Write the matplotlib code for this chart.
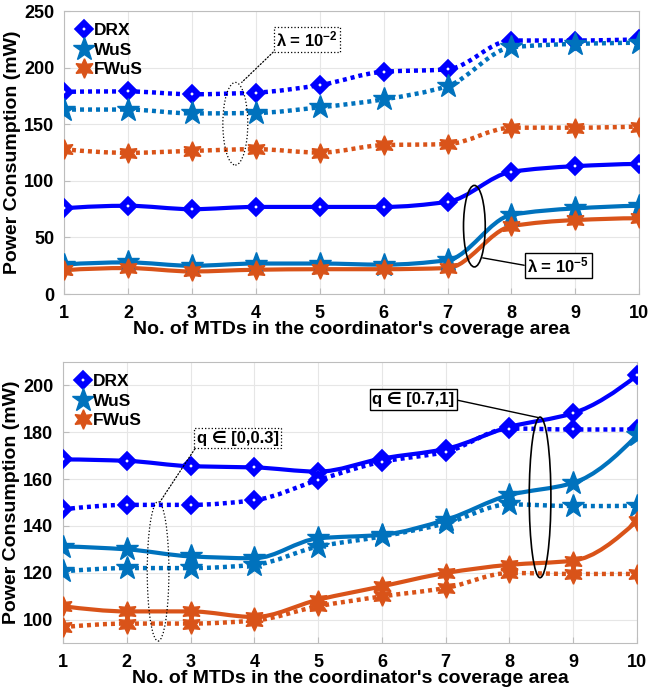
import numpy as np
import matplotlib
matplotlib.use('Agg')
import matplotlib.pyplot as plt
from matplotlib.path import Path
from matplotlib.patches import PathPatch, Ellipse
from matplotlib.lines import Line2D

plt.rcParams['font.family'] = ['Liberation Sans', 'DejaVu Sans']
plt.rcParams['font.weight'] = 'bold'
plt.rcParams['axes.labelweight'] = 'bold'
plt.rcParams['mathtext.fontset'] = 'custom'
plt.rcParams['mathtext.rm'] = 'Liberation Sans:bold'
plt.rcParams['mathtext.it'] = 'Liberation Sans:bold'
plt.rcParams['mathtext.bf'] = 'Liberation Sans:bold'
plt.rcParams['mathtext.default'] = 'rm'

n_mtd = [1, 2, 3, 4, 5, 6, 7, 8, 9, 10]

# top panel: lambda = 1e-2 (dotted) and lambda = 1e-5 (solid)
drx_l2 = [178.7, 179, 176.5, 178, 184.6, 196.4, 198.5, 224, 224, 225]
wus_l2 = [163, 163, 159.6, 160, 165, 172, 183.7, 218, 221, 222]
fwus_l2 = [128, 124.8, 126.5, 128, 125, 131.6, 132.5, 147, 147, 148]
drx_l5 = [75.7, 78, 75, 77, 77, 77, 81.5, 108, 113, 115]
wus_l5 = [26, 28, 25, 27, 27, 26, 30, 70, 75.7, 78]
fwus_l5 = [21, 23, 20, 21.5, 22, 22, 23, 60, 65.4, 67]

# bottom panel: q in [0.7,1] (solid) and q in [0,0.3] (dotted)
drx_qhi = [168.4, 167.8, 165.5, 165, 163.2, 168.8, 172.9, 182.3, 188.2, 204.3]
drx_qlo = [147.1, 149, 149, 151, 159.6, 167.4, 171.6, 181.6, 181.2, 181.2]
wus_qhi = [131.2, 130, 127, 126.2, 134.7, 136.2, 142.6, 153.2, 158.4, 178.7]
wus_qlo = [120.6, 122, 122, 123.4, 131.2, 135.5, 141.1, 149.2, 148.5, 148.6]
fwus_qhi = [105.7, 103.5, 103.5, 101.1, 108.5, 114.2, 119.9, 123.4, 125.2, 142.1]
fwus_qlo = [96.8, 98.3, 98.3, 99.6, 105.7, 109.9, 113.5, 119.9, 119.5, 119.5]

c_drx = (0, 0, 1)
c_wus = (0, 0.447, 0.741)
c_fwus = (0.85, 0.325, 0.098)
hexagram = (6, 1, 0)


def pchip_slopes(x, y):
    x = np.asarray(x, float)
    y = np.asarray(y, float)
    h = np.diff(x)
    d = np.diff(y) / h
    m = np.zeros_like(y)
    for k in range(1, len(x) - 1):
        if d[k - 1] * d[k] > 0:
            w1 = 2 * h[k] + h[k - 1]
            w2 = h[k] + 2 * h[k - 1]
            m[k] = (w1 + w2) / (w1 / d[k - 1] + w2 / d[k])
    for i0, i1, j in [(0, 1, 0), (-1, -2, -1)]:
        hh0, hh1 = h[i0], h[i1]
        dd0, dd1 = d[i0], d[i1]
        e = ((2 * hh0 + hh1) * dd0 - hh0 * dd1) / (hh0 + hh1)
        if np.sign(e) != np.sign(dd0):
            e = 0
        elif np.sign(dd0) != np.sign(dd1) and abs(e) > abs(3 * dd0):
            e = 3 * dd0
        m[j] = e
    return m


def smooth_line(ax, x, y, color, ls):
    # shape-preserving cubic drawn as bezier segments
    m = pchip_slopes(x, y)
    verts = [(x[0], y[0])]
    codes = [Path.MOVETO]
    for i in range(len(x) - 1):
        h = x[i + 1] - x[i]
        verts += [(x[i] + h / 3, y[i] + h * m[i] / 3),
                  (x[i + 1] - h / 3, y[i + 1] - h * m[i + 1] / 3),
                  (x[i + 1], y[i + 1])]
        codes += [Path.CURVE4] * 3
    lw = 3 if ls == '-' else 3.2
    ax.add_patch(PathPatch(Path(verts, codes), fill=False, ec=color, lw=lw,
                           ls=ls if ls == '-' else (0, (0.9, 0.9)), zorder=2))


def series(ax, y, color, marker, ms, ls):
    smooth_line(ax, n_mtd, y, color, ls)
    if marker == 'D':
        ax.plot(n_mtd, y, ls='none', marker='D', ms=6, mfc='white', mec=color, mew=4.3, zorder=3)
    else:
        ax.plot(n_mtd, y, ls='none', marker=marker, ms=ms, color=color, mec=color, zorder=3)


def style(ax, ylim, yticks):
    ax.set_xlim(1, 10)
    ax.set_ylim(*ylim)
    ax.set_xticks(n_mtd, labels=[str(v) for v in n_mtd], fontsize=13, fontweight='bold')
    ax.set_yticks(yticks, labels=[str(v) for v in yticks], fontsize=13, fontweight='bold')
    ax.grid(True, color='#e6e6e6', lw=0.8)
    ax.set_axisbelow(True)
    for s in ax.spines.values():
        s.set_color('#bdbdbd')
    ax.tick_params(direction='in', length=4, color='#bdbdbd')
    ax.tick_params(axis='x', pad=8)
    ax.tick_params(axis='y', pad=7)
    ax.set_xlabel("No. of MTDs in the coordinator's coverage area", fontsize=14,
                  fontweight='bold', labelpad=-1)
    ax.set_ylabel('Power Consumption (mW)', fontsize=14, fontweight='bold', labelpad=2)
    handles = [Line2D([], [], ls='none', marker='D', ms=6, mfc='white', mec=c_drx, mew=4.3),
               Line2D([], [], ls='none', marker='*', ms=17, color=c_wus),
               Line2D([], [], ls='none', marker=hexagram, ms=14, color=c_fwus)]
    ax.legend(handles, ['DRX', 'WuS', 'FWuS'], loc='upper left', frameon=False,
              prop={'size': 12.5, 'weight': 'bold'}, handletextpad=0.1, borderpad=0,
              borderaxespad=0.7, labelspacing=0.25, handlelength=0.9)


fig = plt.figure(figsize=(6.5, 6.92), dpi=100)
ax1 = fig.add_axes([0.0985, 0.575, 0.885, 0.409])
ax2 = fig.add_axes([0.097, 0.0708, 0.883, 0.406])

for y, ls in [(drx_l2, ':'), (drx_l5, '-')]:
    series(ax1, y, c_drx, 'D', 8, ls)
for y, ls in [(wus_l2, ':'), (wus_l5, '-')]:
    series(ax1, y, c_wus, '*', 17, ls)
for y, ls in [(fwus_l2, ':'), (fwus_l5, '-')]:
    series(ax1, y, c_fwus, hexagram, 14, ls)
style(ax1, (0, 250), list(range(0, 251, 50)))

for y, ls in [(drx_qhi, '-'), (drx_qlo, ':')]:
    series(ax2, y, c_drx, 'D', 8, ls)
for y, ls in [(wus_qhi, '-'), (wus_qlo, ':')]:
    series(ax2, y, c_wus, '*', 17, ls)
for y, ls in [(fwus_qhi, '-'), (fwus_qlo, ':')]:
    series(ax2, y, c_fwus, hexagram, 14, ls)
style(ax2, (90, 210), list(range(100, 201, 20)))

# annotations, top panel
ax1.add_patch(Ellipse((3.68, 150.5), 0.39, 73, fill=False, ec='black', lw=0.9, ls=':', zorder=4))
ax1.add_patch(Ellipse((7.42, 60), 0.34, 72, fill=False, ec='black', lw=1.2, zorder=4))
ax1.annotate(r'λ = 10$^{-2}$', xy=(3.78, 187), xytext=(4.8, 225), ha='center', va='center',
             fontsize=12, fontweight='bold',
             arrowprops=dict(arrowstyle='-', lw=0.9, ls=':', color='black',
                             shrinkA=0, shrinkB=0, relpos=(0, 0)),
             bbox=dict(boxstyle='square,pad=0.15', fc='white', ec='black', ls=':', lw=0.9),
             zorder=5)
ax1.annotate(r'λ = 10$^{-5}$', xy=(7.55, 32), xytext=(8.73, 25), ha='center', va='center',
             fontsize=12, fontweight='bold',
             arrowprops=dict(arrowstyle='-', lw=1, color='black',
                             shrinkA=0, shrinkB=0, relpos=(0, 0.5)),
             bbox=dict(boxstyle='square,pad=0.15', fc='white', ec='black', lw=1),
             zorder=5)

# annotations, bottom panel
ax2.add_patch(Ellipse((2.49, 120.6), 0.34, 59.6, fill=False, ec='black', lw=0.9, ls=':', zorder=4))
ax2.add_patch(Ellipse((8.48, 152.2), 0.34, 68.6, fill=False, ec='black', lw=1.2, zorder=4))
ax2.annotate('q ∈ [0,0.3]', xy=(2.52, 150.3), xytext=(3.74, 177.4), ha='center',
             va='center', fontsize=12, fontweight='bold',
             arrowprops=dict(arrowstyle='-', lw=0.9, ls=':', color='black',
                             shrinkA=0, shrinkB=0, relpos=(0, 0)),
             bbox=dict(boxstyle='square,pad=0.15', fc='white', ec='black', ls=':', lw=0.9),
             zorder=5)
ax2.annotate('q ∈ [0.7,1]', xy=(8.45, 186.3), xytext=(6.49, 194), ha='center',
             va='center', fontsize=12, fontweight='bold',
             arrowprops=dict(arrowstyle='-', lw=1, color='black',
                             shrinkA=0, shrinkB=0, relpos=(1, 0.5)),
             bbox=dict(boxstyle='square,pad=0.15', fc='white', ec='black', lw=1),
             zorder=5)

fig.savefig('out.png', dpi=100)
